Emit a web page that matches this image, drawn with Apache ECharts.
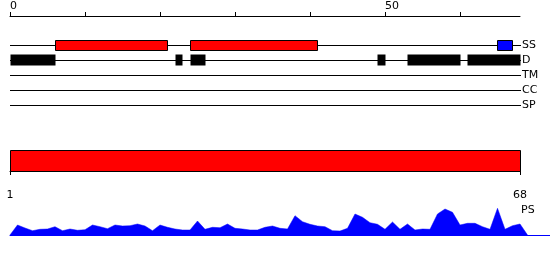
<!DOCTYPE html>
<html>
<head>
<meta charset="utf-8">
<script src="https://cdn.jsdelivr.net/npm/echarts@6/dist/echarts.min.js"></script>
<style>
html,body{margin:0;padding:0;background:#fff;}
#chart{width:550px;height:260px;}
</style>
</head>
<body>
<div id="chart"></div>
<script>
// ---- data ----
const seqLength = 68;
const topTickValues = [0, 10, 20, 30, 40, 50, 60];
const topLabelValues = [0, 50];
const bottomLabelValues = [1, 68];
const trackNames = ['SS', 'D', 'TM', 'CC', 'SP'];
const ssHelix = [[6, 21], [24, 41]];
const ssStrand = [[65, 67]];
const disorder = [[0, 6], [22, 23], [24, 26], [49, 50], [53, 60], [61, 68]];
const wholeSeq = [[1, 68]];
const psValues = [10, 7, 4.3, 5.7, 6, 8.3, 4.3, 6, 4.7, 5.3,
  10, 8.3, 6.3, 10, 9, 9.3, 11, 9, 4.3, 10,
  7.7, 6, 5, 5, 14, 5.7, 7.7, 7.3, 11, 6.7,
  6, 5, 5, 7.7, 9, 6.7, 6, 19.3, 13.3, 10.7,
  9, 8.3, 4.3, 4, 6.7, 21, 17.7, 12.3, 10.7, 5.7,
  13, 5.7, 11, 5, 6, 5.7, 21, 26, 22.7, 10,
  11.7, 11.7, 8.3, 5.7, 26.7, 5.7, 9.3, 11];

const FONT = 'DejaVu Sans';
const chart = echarts.init(document.getElementById('chart'), null, {renderer: 'canvas'});

function crisp(v) { return Math.round(v - 0.5) + 0.5; }

function boxRenderer(row, h, fill, stroke) {
  return function (params, api) {
    const p0 = api.coord([api.value(0), row]);
    const p1 = api.coord([api.value(1), row]);
    const x0 = crisp(p0[0]), x1 = crisp(p1[0]);
    const y0 = crisp(p0[1] - h / 2);
    return {
      type: 'rect',
      shape: {x: x0, y: y0, width: x1 - x0, height: h},
      style: {fill: fill, stroke: stroke, lineWidth: stroke ? 1 : 0}
    };
  };
}

const psData = [[0, 0]].concat(psValues.map((v, i) => [i + 1, v])).concat([[seqLength + 1, 0]]);

const option = {
  animation: false,
  backgroundColor: '#fff',
  grid: [
    {left: 10, width: 510, top: 15, height: 1},
    {left: 10, width: 510, top: 37.5, height: 75},
    {left: 10, width: 510, top: 150, height: 21},
    {left: 10, width: 540, top: 205, height: 30}
  ],
  xAxis: [
    {
      gridIndex: 0, type: 'value', position: 'top', min: 0, max: seqLength,
      axisLine: {show: true, lineStyle: {color: '#000', width: 1}},
      axisTick: {show: true, length: 4, customValues: topTickValues, lineStyle: {color: '#000'}},
      axisLabel: {show: true, customValues: topLabelValues, align: 'left', margin: 3,
        fontFamily: FONT, fontSize: 11, color: '#000'},
      splitLine: {show: false}
    },
    {gridIndex: 1, type: 'value', min: 0, max: seqLength, show: false},
    {
      gridIndex: 2, type: 'value', position: 'bottom', min: 1, max: seqLength, offset: 10,
      axisLine: {show: true, lineStyle: {color: '#000', width: 1}},
      axisTick: {show: true, length: 4, customValues: bottomLabelValues, lineStyle: {color: '#000'}},
      axisLabel: {show: true, customValues: bottomLabelValues, margin: 9,
        fontFamily: FONT, fontSize: 11, color: '#000'},
      splitLine: {show: false}
    },
    {
      gridIndex: 3, type: 'value', min: 0, max: seqLength + 4,
      axisLine: {show: true, lineStyle: {color: '#0000ff', width: 1}},
      axisTick: {show: false}, axisLabel: {show: false}, splitLine: {show: false}
    }
  ],
  yAxis: [
    {gridIndex: 0, type: 'value', show: false},
    {
      gridIndex: 1, type: 'category', data: trackNames, inverse: true, position: 'right',
      axisLine: {show: false}, axisTick: {show: false}, splitLine: {show: false},
      axisLabel: {show: true, margin: 2, fontFamily: FONT, fontSize: 11, color: '#000'}
    },
    {gridIndex: 2, type: 'value', min: 0, max: 1, show: false},
    {gridIndex: 3, type: 'value', min: 0, max: 30, show: false}
  ],
  graphic: [
    {type: 'text', left: 521, top: 205,
      style: {text: 'PS', font: '11px "DejaVu Sans"', fill: '#000'}}
  ],
  series: [
    // track base lines
    {
      type: 'custom', xAxisIndex: 1, yAxisIndex: 1, silent: true,
      data: trackNames.map((n, i) => [i]),
      renderItem: function (params, api) {
        const r = api.value(0);
        const a = api.coord([0, r]);
        const b = api.coord([seqLength, r]);
        const y = crisp(a[1]);
        return {type: 'line', shape: {x1: a[0], y1: y, x2: b[0] + 1, y2: y},
          style: {stroke: '#000', lineWidth: 1}};
      }
    },
    {
      type: 'custom', xAxisIndex: 1, yAxisIndex: 1, silent: true, z: 3,
      data: ssHelix, renderItem: boxRenderer(0, 10, '#ff0000', '#000')
    },
    {
      type: 'custom', xAxisIndex: 1, yAxisIndex: 1, silent: true, z: 3,
      data: ssStrand, renderItem: boxRenderer(0, 10, '#0000ff', '#000')
    },
    {
      type: 'custom', xAxisIndex: 1, yAxisIndex: 1, silent: true, z: 3,
      data: disorder, renderItem: boxRenderer(1, 11, '#000', null)
    },
    {
      type: 'custom', xAxisIndex: 2, yAxisIndex: 2, silent: true,
      data: wholeSeq,
      renderItem: function (params, api) {
        const a = api.coord([api.value(0), 0]);
        const b = api.coord([api.value(1), 0]);
        const cs = params.coordSys;
        const x0 = crisp(a[0]), x1 = crisp(b[0]);
        const y0 = crisp(cs.y), y1 = crisp(cs.y + cs.height);
        return {type: 'rect', shape: {x: x0, y: y0, width: x1 - x0, height: y1 - y0},
          style: {fill: '#ff0000', stroke: '#000', lineWidth: 1}};
      }
    },
    {
      type: 'line', xAxisIndex: 3, yAxisIndex: 3, silent: true,
      data: psData, symbol: 'none', smooth: false,
      lineStyle: {color: '#0000ff', width: 0.5},
      areaStyle: {color: '#0000ff', opacity: 1}
    }
  ]
};
chart.setOption(option);
</script>
</body>
</html>
